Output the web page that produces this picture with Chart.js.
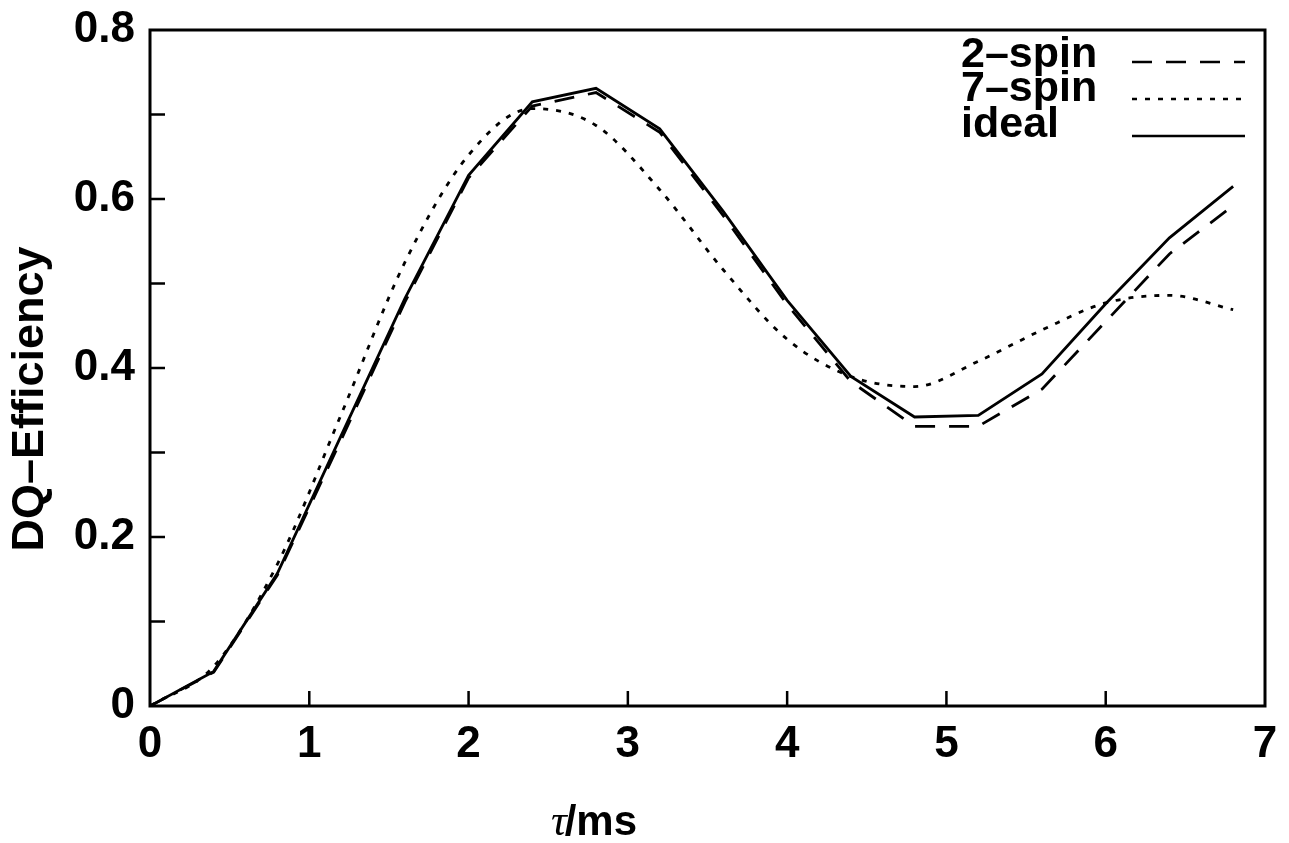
<!DOCTYPE html>
<html>
<head>
<meta charset="utf-8">
<script src="https://cdn.jsdelivr.net/npm/chart.js@4.4.1/dist/chart.umd.min.js"></script>
<style>
html,body{margin:0;padding:0;background:#fff;}
canvas{display:block;}
</style>
</head>
<body>
<canvas id="c" width="1289" height="843"></canvas>
<script>
// ---- data ----
const tau = [0, 0.4, 0.8, 1.2, 1.6, 2.0, 2.4, 2.8, 3.2, 3.6, 4.0, 4.4, 4.8, 5.2, 5.6, 6.0, 6.4, 6.8];
const twoSpin = [0, 0.040, 0.155, 0.315, 0.478, 0.625, 0.710, 0.726, 0.679, 0.580, 0.475, 0.384, 0.331, 0.331, 0.375, 0.455, 0.535, 0.592];
const sevenSpin = [0, 0.047, 0.168, 0.345, 0.525, 0.652, 0.707, 0.687, 0.611, 0.516, 0.434, 0.390, 0.378, 0.408, 0.445, 0.477, 0.486, 0.469];
const ideal = [0, 0.041, 0.157, 0.320, 0.482, 0.628, 0.715, 0.731, 0.683, 0.585, 0.480, 0.390, 0.342, 0.344, 0.393, 0.476, 0.554, 0.615];
const seriesNames = ['2\u2013spin', '7\u2013spin', 'ideal'];
const xTickLabels = ['0', '1', '2', '3', '4', '5', '6', '7'];
const yTickLabels = ['0', '', '0.2', '', '0.4', '', '0.6', '', '0.8'];
const xTitleGreek = '\u03C4';
const xTitleRest = '/ms';
const yTitle = 'DQ\u2013Efficiency';

const FONT = '"Liberation Sans", Arial, Helvetica, sans-serif';
const toXY = arr => tau.map((t, i) => ({x: t, y: arr[i]}));

const styles = [
  {dash: [20, 14], tension: 0},
  {dash: [5, 8], tension: 0.4},
  {dash: [], tension: 0}
];

const framePlugin = {
  id: 'frame',
  afterDraw(chart) {
    const ctx = chart.ctx;
    const a = chart.chartArea;
    const xs = chart.scales.x, ys = chart.scales.y;
    ctx.save();
    ctx.strokeStyle = '#000';
    // inward ticks
    ctx.lineWidth = 2.5;
    ctx.beginPath();
    xs.ticks.forEach(t => {
      const px = xs.getPixelForValue(t.value);
      if (px > a.left + 2 && px < a.right - 2) {
        ctx.moveTo(px, a.bottom);
        ctx.lineTo(px, a.bottom - 15);
      }
    });
    ys.ticks.forEach(t => {
      const py = ys.getPixelForValue(t.value);
      if (py > a.top + 2 && py < a.bottom - 2) {
        ctx.moveTo(a.left, py);
        ctx.lineTo(a.left + 15, py);
      }
    });
    ctx.stroke();
    // frame
    ctx.lineWidth = 3;
    ctx.strokeRect(a.left, a.top, a.right - a.left, a.bottom - a.top);

    // y title
    ctx.fillStyle = '#000';
    ctx.save();
    ctx.translate(43, 399);
    ctx.rotate(-Math.PI / 2);
    ctx.font = 'bold 45px ' + FONT;
    ctx.textAlign = 'center';
    ctx.textBaseline = 'alphabetic';
    ctx.fillText(yTitle, 0, 0);
    ctx.restore();

    // x title
    ctx.textBaseline = 'alphabetic';
    ctx.textAlign = 'left';
    const gFont = 'italic 44px "Liberation Serif", "DejaVu Serif", serif';
    const rFont = 'bold 42px ' + FONT;
    ctx.font = gFont;
    const wg = ctx.measureText(xTitleGreek).width;
    ctx.font = rFont;
    const wr = ctx.measureText(xTitleRest).width;
    let x0 = 595 - (wg + wr) / 2;
    ctx.font = gFont;
    ctx.fillText(xTitleGreek, x0, 835);
    ctx.font = rFont;
    ctx.fillText(xTitleRest, x0 + wg - 2, 835);

    // legend
    const baselines = [67, 101, 137];
    const lineYs = [62, 99, 136];
    ctx.font = 'bold 43px ' + FONT;
    ctx.textAlign = 'left';
    chart.data.datasets.forEach((ds, i) => {
      ctx.fillText(ds.label, 961, baselines[i]);
      ctx.beginPath();
      ctx.lineWidth = 2.5;
      ctx.setLineDash(ds.borderDash || []);
      ctx.moveTo(1132, lineYs[i]);
      ctx.lineTo(1245, lineYs[i]);
      ctx.stroke();
    });
    ctx.setLineDash([]);
    ctx.restore();
  }
};

new Chart(document.getElementById('c'), {
  type: 'line',
  data: {
    datasets: [twoSpin, sevenSpin, ideal].map((arr, i) => ({
      label: seriesNames[i],
      data: toXY(arr),
      borderColor: '#000',
      borderWidth: 2.8,
      borderDash: styles[i].dash,
      tension: styles[i].tension,
      cubicInterpolationMode: i === 1 ? 'monotone' : 'default',
      pointRadius: 0,
      fill: false
    }))
  },
  options: {
    responsive: false,
    animation: false,
    layout: {padding: {left: 0, top: 30, right: 24, bottom: 0}},
    plugins: {legend: {display: false}, tooltip: {enabled: false}},
    scales: {
      x: {
        type: 'linear', min: 0, max: 7,
        afterFit: s => { s.height = 137; s.paddingLeft = 0; s.paddingRight = 0; },
        ticks: {
          stepSize: 1, color: '#000', padding: 12,
          font: {family: FONT, size: 44, weight: 'bold'},
          maxRotation: 0,
          callback: (v, i) => xTickLabels[i]
        },
        grid: {display: true, drawOnChartArea: false, drawTicks: false},
        border: {display: false}
      },
      y: {
        type: 'linear', min: 0, max: 0.8,
        afterFit: s => { s.width = 150; s.paddingTop = 0; s.paddingBottom = 0; },
        ticks: {
          stepSize: 0.1, color: '#000', padding: 15,
          font: {family: FONT, size: 44, weight: 'bold'},
          autoSkip: false,
          callback: (v, i) => yTickLabels[i]
        },
        grid: {display: true, drawOnChartArea: false, drawTicks: false},
        border: {display: false}
      }
    }
  },
  plugins: [framePlugin]
});
</script>
</body>
</html>
